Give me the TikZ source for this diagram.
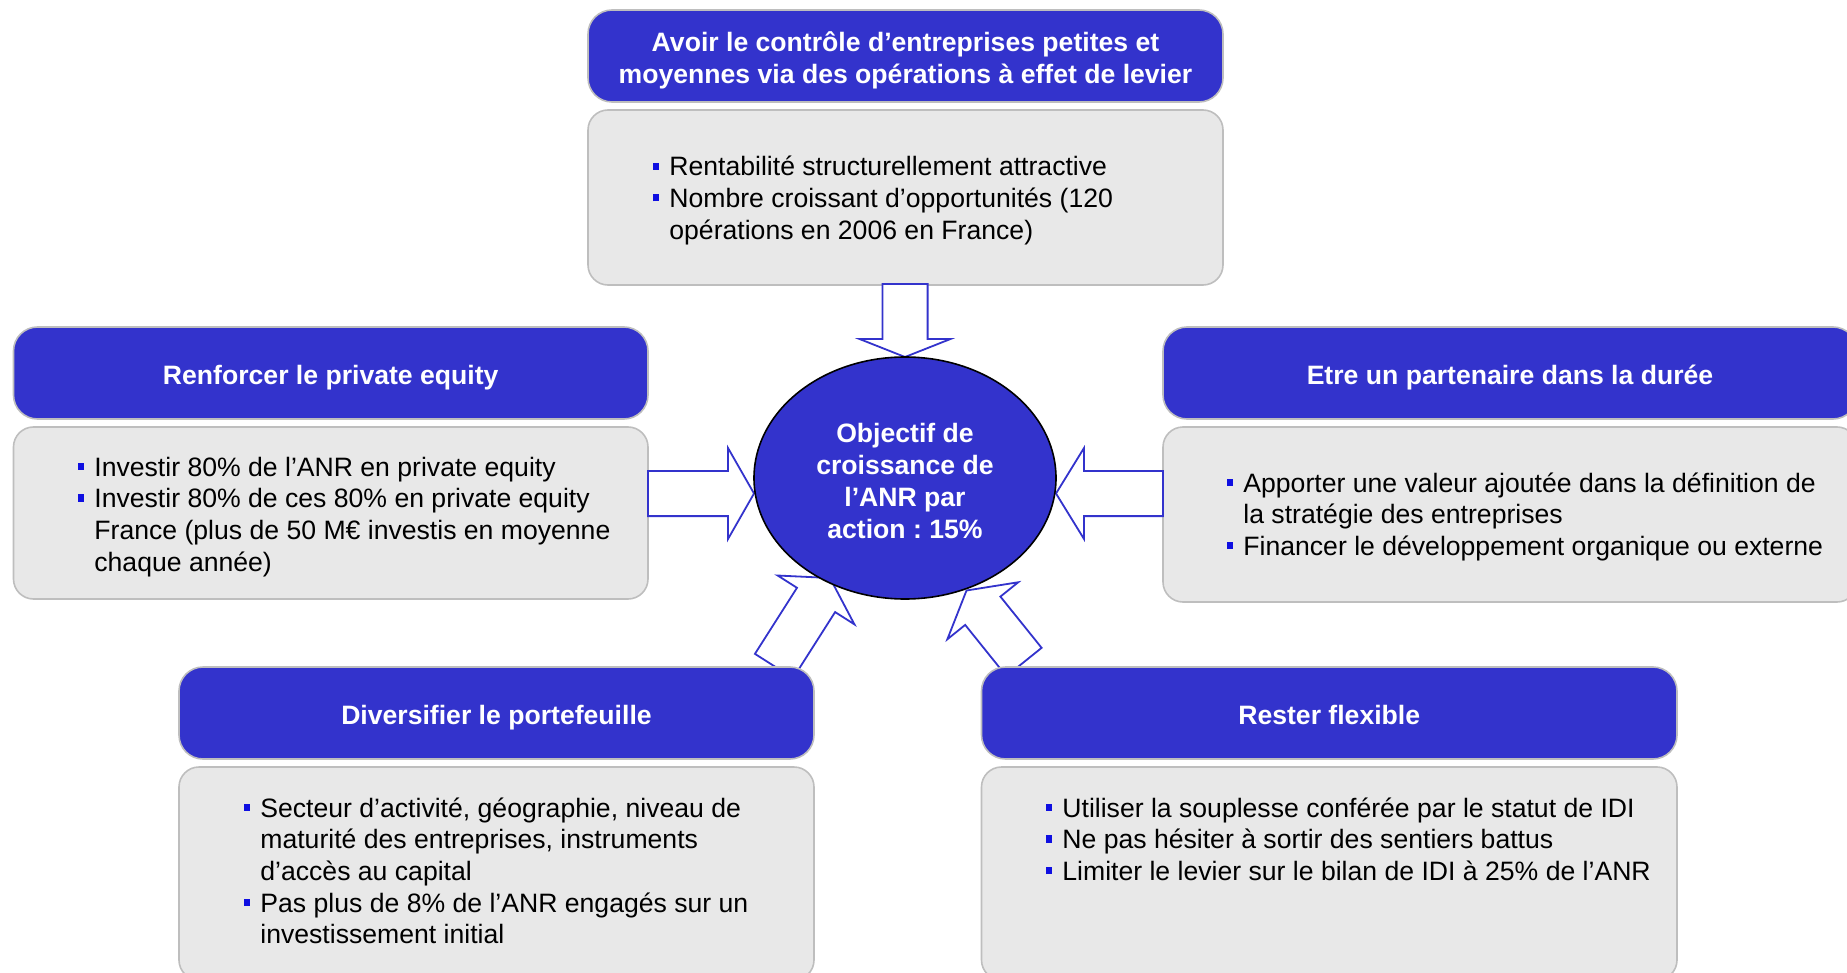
\documentclass[tikz,border=0pt]{standalone}
\usepackage{fontspec}
\setmainfont{Liberation Sans}
\usetikzlibrary{calc,fit,shapes.geometric}
\definecolor{hblue}{RGB}{51,51,204}
\definecolor{bgray}{RGB}{232,232,232}
\definecolor{lgray}{RGB}{190,190,190}
\definecolor{bblue}{RGB}{15,15,225}
\definecolor{ablue}{RGB}{51,51,204}

\newcommand\bul{\makebox[8pt][l]{\textcolor{bblue}{\rule[3.1pt]{3pt}{3.6pt}}}}
\newcommand\ind{\hspace*{8pt}}
\newcommand\bodyfont{\fontsize{13.3}{15.85}\selectfont}
\newcommand\hdrfont{\fontsize{13.3}{16}\selectfont\bfseries}

% block arrow: [head length]{tail}{tip}
\newcommand\blockarrow[3][13pt]{%
  \coordinate (ba-h) at ($(#3)!#1!(#2)$);
  \draw[barrow] (#3) -- ($(ba-h)!22.75pt!90:(#3)$) -- ($(ba-h)!11.3pt!90:(#3)$)
    -- ($(#2)!11.3pt!90:(#3)$) -- ($(#2)!11.3pt!-90:(#3)$)
    -- ($(ba-h)!11.3pt!-90:(#3)$) -- ($(ba-h)!22.75pt!-90:(#3)$) -- cycle;
}

\tikzset{
  hdr/.style={rectangle, rounded corners=12pt, fill=hblue, draw=lgray, line width=0.8pt,
    text=white, font=\hdrfont, align=center, inner sep=0pt, minimum height=46pt},
  hdrone/.style={hdr, text height=12.5pt, text depth=1pt},
  bodybox/.style={rectangle, rounded corners=10pt, fill=bgray, draw=lgray, line width=0.8pt, inner sep=0pt},
  bodytext/.style={anchor=base west, inner sep=0pt, font=\bodyfont},
  barrow/.style={draw=ablue, fill=white, line width=0.9pt, line join=miter},
  goal/.style={ellipse, fill=hblue, draw=black, line width=0.8pt, text=white, font=\hdrfont,
    align=center, inner sep=0pt, minimum width=151pt, minimum height=121pt}
}

\begin{document}
\frenchspacing
\begin{tikzpicture}[x=0.5pt, y=-0.5pt]
\useasboundingbox (0,0) rectangle (1847,973);
\clip (0,0) rectangle (1847,973);

% arrow end points
\coordinate (aT0) at (905,284);   \coordinate (aT1) at (905,357);
\coordinate (aL0) at (648,493.5); \coordinate (aL1) at (754,493.5);
\coordinate (aR0) at (1163,493.5);\coordinate (aR1) at (1056,493.5);
\coordinate (aDL0) at (774,666);  \coordinate (aDL1) at (830,578);
\coordinate (aDR0) at (1024,662); \coordinate (aDR1) at (966.5,590.5);

% diagonal arrows (under the boxes)
\blockarrow{aDL0}{aDL1}
\blockarrow{aDR0}{aDR1}

% top block
\node[hdr, minimum width=317.5pt] (hTop) at (905.5,56) {\rule{0pt}{14.4pt}Avoir le contrôle d’entreprises petites et\\moyennes via des opérations à effet de levier};
\node[bodybox, fit={(588,110) (1223,285)}] (bTop) {};
\node[bodytext] (tTop) at (653,176) {\parbox[t]{450pt}{\bul Rentabilité structurellement attractive\\
\bul Nombre croissant d’opportunités (120\\
\ind opérations en 2006 en France)}};

% left block
\node[hdrone, minimum width=317.25pt] (hRen) at (330.75,373) {Renforcer le private equity};
\node[bodybox, fit={(13.5,427) (648,599)}] (bRen) {};
\node[bodytext] (tRen) at (78,476) {\parbox[t]{450pt}{\bul Investir 80\% de l’ANR en private equity\\
\bul Investir 80\% de ces 80\% en private equity\\
\ind France (plus de 50 M€ investis en moyenne\\
\ind chaque année)}};

% right block
\node[hdrone, minimum width=347pt] (hEtre) at (1510,373) {Etre un partenaire dans la durée};
\node[bodybox, fit={(1163,427) (1857,602)}] (bEtre) {};
\node[bodytext] (tEtre) at (1227,492) {\parbox[t]{450pt}{\bul Apporter une valeur ajoutée dans la définition de\\
\ind la stratégie des entreprises\\
\bul Financer le développement organique ou externe}};

% bottom left block
\node[hdrone, minimum width=317.5pt] (hDiv) at (496.5,713) {Diversifier le portefeuille};
\node[bodybox, fit={(179,767) (814,980)}] (bDiv) {};
\node[bodytext] (tDiv) at (244,817) {\parbox[t]{450pt}{\bul Secteur d’activité, géographie, niveau de\\
\ind maturité des entreprises, instruments\\
\ind d’accès au capital\\
\bul Pas plus de 8\% de l’ANR engagés sur un\\
\ind investissement initial}};

% bottom right block
\node[hdrone, minimum width=347.75pt] (hRes) at (1329.25,713) {Rester flexible};
\node[bodybox, fit={(981.5,767) (1677,980)}] (bRes) {};
\node[bodytext] (tRes) at (1046,817) {\parbox[t]{450pt}{\bul Utiliser la souplesse conférée par le statut de IDI\\
\bul Ne pas hésiter à sortir des sentiers battus\\
\bul Limiter le levier sur le bilan de IDI à 25\% de l’ANR}};

% straight arrows
\blockarrow[9pt]{aT0}{aT1}
\blockarrow{aL0}{aL1}
\blockarrow[14pt]{aR0}{aR1}

% central goal
\node[goal] (goal) at (905,478) {\rule{0pt}{12.2pt}Objectif de\\croissance de\\l’ANR par\\action : 15\%};
\end{tikzpicture}
\end{document}
